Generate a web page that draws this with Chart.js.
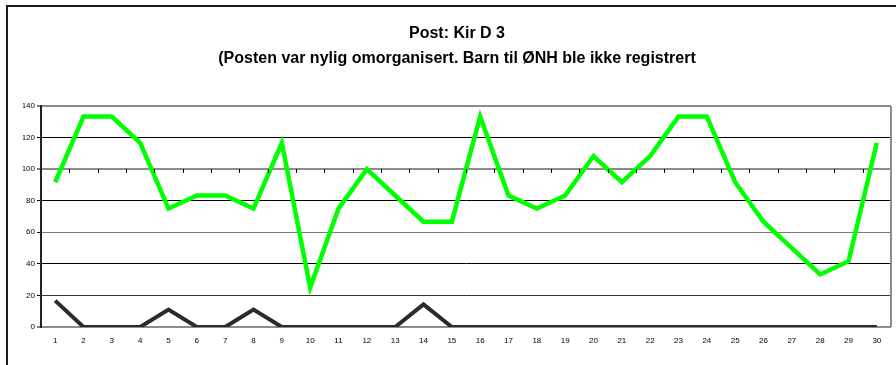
<!DOCTYPE html>
<html>
<head>
<meta charset="utf-8">
<script src="https://cdn.jsdelivr.net/npm/chart.js@4.4.0/dist/chart.umd.min.js"></script>
<style>
    html, body { margin: 0; padding: 0; background: #fff; overflow: hidden; }
    #wrap { position: relative; width: 896px; height: 365px; }
</style>
</head>
<body>
<div id="wrap"><canvas id="postChart" width="896" height="365"></canvas></div>
<script>
const days = [];
for (let d = 1; d <= 30; d++) days.push(String(d));

// belegg i prosent per dag
const belegg = [91.7, 133.3, 133.3, 116.7, 75, 83.3, 83.3, 75, 116.7, 25,
                75, 100, 83.3, 66.7, 66.7, 133.3, 83.3, 75, 83.3, 108.3,
                91.7, 108.3, 133.3, 133.3, 91.7, 66.7, 50, 33.3, 41.7, 116.7];
// korridorpasienter i prosent per dag
const korridor = [16.7, 0, 0, 0, 11.1, 0, 0, 11.1, 0, 0,
                  0, 0, 0, 14.3, 0, 0, 0, 0, 0, 0,
                  0, 0, 0, 0, 0, 0, 0, 0, 0, 0];
const yTicks = [0, 20, 40, 60, 80, 100, 120, 140];

const titleLines = ["Post: Kir D 3", "(Posten var nylig omorganisert. Barn til ØNH ble ikke registrert"];

function gridColor(v) {
    if (v === 140 || v === 100 || v === 0) return "#8c8c8c";
    if (v === 60) return "#7a7a7a";
    if (v === 20) return "#333";
    return "#000";
}
function gridWidth(v) {
    if (v === 140 || v === 100 || v === 0) return 2;
    return 1;
}

// ramme rundt hele diagrammet, høyre kant i plotteområdet og små merker på 100-linja
const framePlugin = {
    id: "frame",
    beforeDraw(chart) {
        const ctx = chart.ctx;
        ctx.save();
        ctx.strokeStyle = "#1a1a1a";
        ctx.lineWidth = 2;
        ctx.beginPath();
        ctx.moveTo(7, 370);
        ctx.lineTo(7, 6);
        ctx.lineTo(900, 6);
        ctx.stroke();
        ctx.restore();
    },
    afterDatasetsDraw(chart) {
        const ctx = chart.ctx;
        const area = chart.chartArea;
        const x = chart.scales.x;
        const y = chart.scales.y;
        ctx.save();
        ctx.strokeStyle = "#8c8c8c";
        ctx.lineWidth = 2;
        ctx.beginPath();
        ctx.moveTo(area.right, area.top);
        ctx.lineTo(area.right, area.bottom);
        ctx.stroke();
        ctx.strokeStyle = "#000";
        ctx.lineWidth = 1;
        const y100 = Math.round(y.getPixelForValue(100));
        ctx.beginPath();
        for (let i = 0; i < days.length - 1; i++) {
            const bx = Math.round((x.getPixelForValue(i) + x.getPixelForValue(i + 1)) / 2) + 0.5;
            ctx.moveTo(bx, y100);
            ctx.lineTo(bx, y100 + 4);
        }
        ctx.stroke();
        ctx.restore();
    }
};

new Chart(document.getElementById("postChart").getContext("2d"), {
    type: "line",
    data: {
        labels: days,
        datasets: [
            {
                label: "Belegg",
                data: belegg,
                borderColor: "#00ff00",
                borderWidth: 4.5,
                pointRadius: 0,
                tension: 0,
                fill: false
            },
            {
                label: "Korridor",
                data: korridor,
                borderColor: "#2b2b2b",
                borderWidth: 4,
                pointRadius: 0,
                tension: 0,
                fill: false
            }
        ]
    },
    options: {
        responsive: false,
        animation: false,
        layout: { padding: { left: 23, right: 5, top: 0, bottom: 0 } },
        plugins: {
            legend: { display: false },
            tooltip: { enabled: false },
            title: {
                display: true,
                text: titleLines,
                color: "#000",
                font: { family: "'Liberation Sans', Arial, sans-serif", size: 16, weight: "bold", lineHeight: 1.5625 },
                padding: { top: 21, bottom: 35 }
            }
        },
        scales: {
            x: {
                offset: true,
                grid: { display: false, drawTicks: false },
                border: { display: false },
                ticks: {
                    color: "#000",
                    padding: 9,
                    maxRotation: 0,
                    autoSkip: false,
                    font: { family: "'Liberation Sans', Arial, sans-serif", size: 8 }
                },
                afterFit(scale) { scale.height = 38; }
            },
            y: {
                min: 0,
                max: 140,
                afterBuildTicks(scale) { scale.ticks = yTicks.map(v => ({ value: v })); },
                grid: {
                    color: c => gridColor(c.tick.value),
                    lineWidth: c => gridWidth(c.tick.value),
                    tickColor: "#000",
                    tickLength: 4,
                    tickWidth: 1
                },
                border: { display: true, color: "#222", width: 2 },
                ticks: {
                    color: "#000",
                    padding: 2,
                    font: { family: "'Liberation Sans', Arial, sans-serif", size: 8 }
                },
                afterFit(scale) { scale.width = 18; }
            }
        }
    },
    plugins: [framePlugin]
});
</script>
</body>
</html>
